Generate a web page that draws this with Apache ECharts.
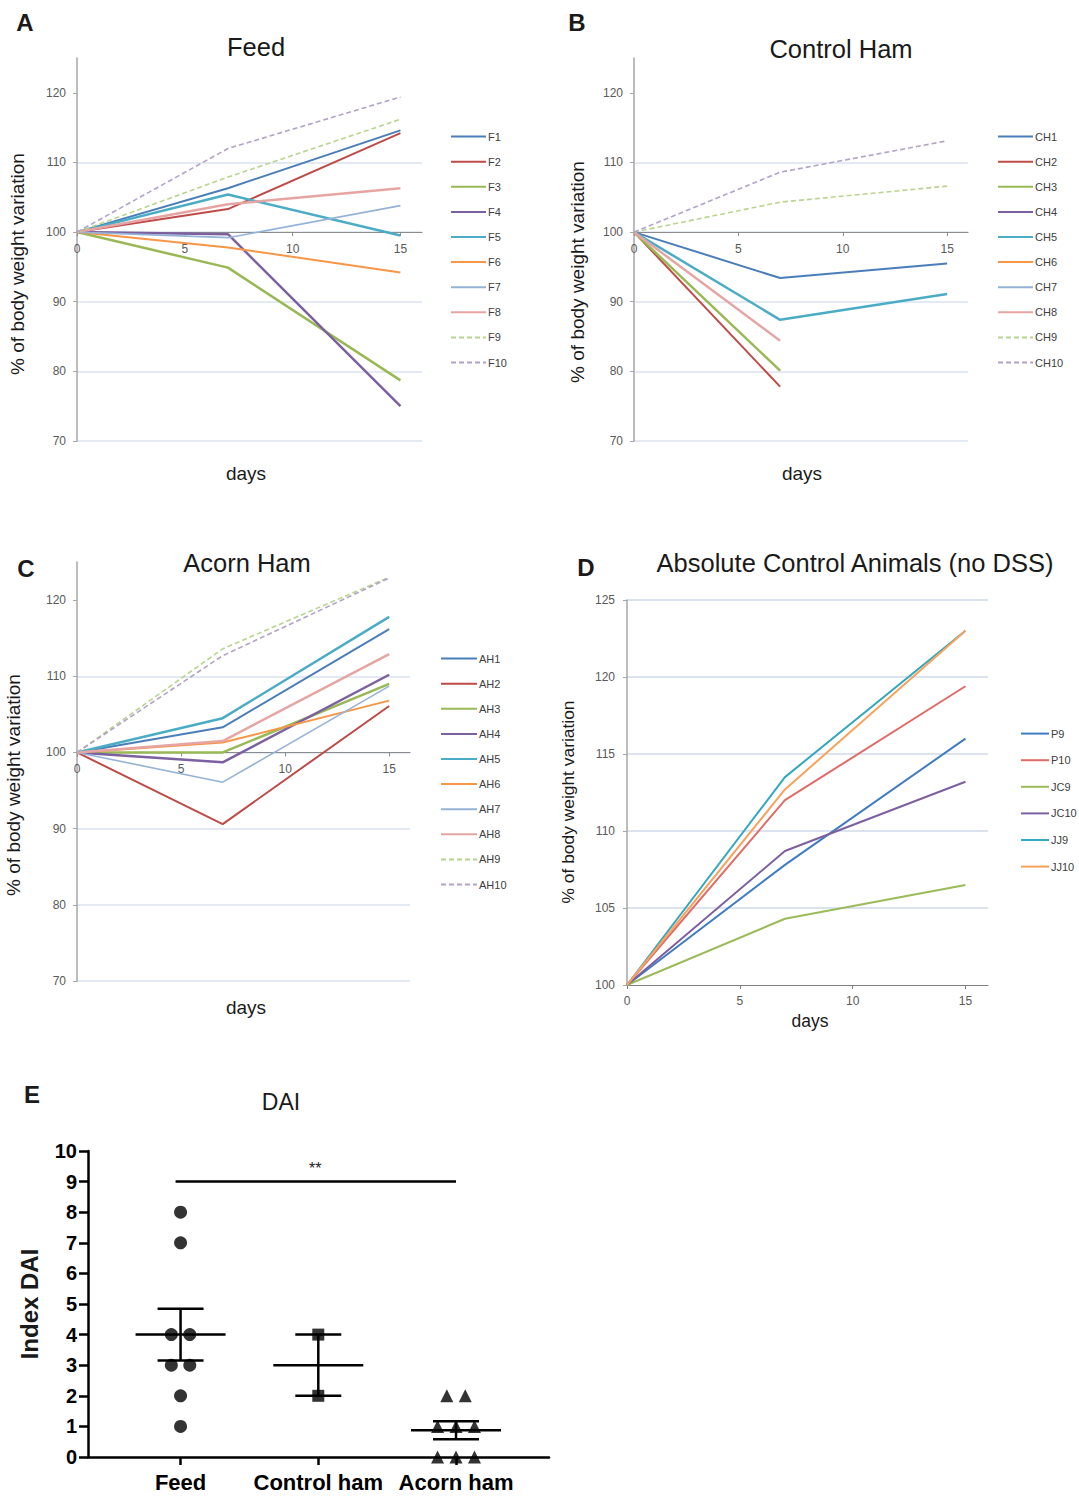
<!DOCTYPE html>
<html>
<head>
<meta charset="utf-8">
<title>Body weight variation and DAI</title>
<script src="https://cdn.jsdelivr.net/npm/echarts@6/dist/echarts.min.js"></script>
<style>
  html, body { margin: 0; padding: 0; background: #ffffff; }
  #chart { width: 1079px; height: 1497px; }
</style>
</head>
<body>
<div id="chart"></div>
<script>
// measurement days
const days = [0, 7, 15];
const dayTicks = [0, 5, 10, 15];
const weightTicks = [70, 80, 90, 100, 110, 120];
const controlTicks = [100, 105, 110, 115, 120, 125];

// A - Feed
const feedNames = ['F1', 'F2', 'F3', 'F4', 'F5', 'F6', 'F7', 'F8', 'F9', 'F10'];
const feedValues = [
  [100, 106.3, 114.6],
  [100, 103.3, 114.2],
  [100, 94.9, 78.7],
  [100, 99.7, 75.0],
  [100, 105.4, 99.5],
  [100, 97.8, 94.2],
  [100, 99.2, 103.8],
  [100, 104.0, 106.3],
  [100, 107.9, 116.2],
  [100, 112.0, 119.4]
];

// B - Control Ham (some animals have no later values)
const chNames = ['CH1', 'CH2', 'CH3', 'CH4', 'CH5', 'CH6', 'CH7', 'CH8', 'CH9', 'CH10'];
const chValues = [
  [100, 93.4, 95.5],
  [100, 77.8, null],
  [100, 80.1, null],
  [100, null, null],
  [100, 87.4, 91.1],
  [100, null, null],
  [100, null, null],
  [100, 84.4, null],
  [100, 104.3, 106.6],
  [100, 108.6, 113.1]
];

// C - Acorn Ham
const ahNames = ['AH1', 'AH2', 'AH3', 'AH4', 'AH5', 'AH6', 'AH7', 'AH8', 'AH9', 'AH10'];
const ahValues = [
  [100, 103.3, 116.2],
  [100, 90.6, 106.1],
  [100, 100.0, 109.0],
  [100, 98.7, 110.2],
  [100, 104.5, 117.8],
  [100, 101.3, 106.8],
  [100, 96.1, 108.7],
  [100, 101.5, 112.9],
  [100, 113.6, 123.0],
  [100, 112.7, 122.9]
];

// D - Absolute control animals (no DSS)
const acNames = ['P9', 'P10', 'JC9', 'JC10', 'JJ9', 'JJ10'];
const acValues = [
  [100, 107.8, 116.0],
  [100, 112.0, 119.4],
  [100, 104.3, 106.5],
  [100, 108.7, 113.2],
  [100, 113.5, 123.0],
  [100, 112.7, 123.0]
];

// E - DAI
const groupNames = ['Feed', 'Control ham', 'Acorn ham'];
const feedDAI = [8, 7, 4, 4, 3, 3, 2, 1];
const controlDAI = [4, 2];
const acornDAI = [2, 2, 1, 1, 1, 0, 0, 0];
const sigLevel = 9;

// styles
const FONT = '"Liberation Sans", Arial, sans-serif';
const palette = ['#4a7ebb', '#be4b48', '#98b954', '#7d60a0', '#4bacc6',
                 '#f79646', '#95b3d7', '#e6a5a3', '#b9d48f', '#b3a2c7'];
const widths = [2, 2, 2.5, 2.5, 2.5, 2, 1.6, 2.5, 1.6, 1.6];
const dashed = [false, false, false, false, false, false, false, false, true, true];
const acPalette = ['#3f7cc2', '#e06c68', '#9bbb59', '#7d5fa0', '#31a7c0', '#f9a25c'];
const yName = '% of body weight variation';

const chart = echarts.init(document.getElementById('chart'), null, { renderer: 'svg' });

function lineSeries(names, values, colors, idx) {
  return names.map((name, i) => ({
    name: name,
    type: 'line',
    xAxisIndex: idx,
    yAxisIndex: idx,
    symbol: 'none',
    silent: true,
    lineStyle: { color: colors[i], width: widths[i] || 2, type: dashed[i] ? [5, 3] : 'solid' },
    itemStyle: { color: colors[i] },
    data: days.map((d, j) => [d, values[i][j]]).filter(p => p[1] != null)
  }));
}

// grids: A, B, C, D, E
const grids = [
  { left: 77, top: 58, width: 345, height: 383 },
  { left: 634, top: 58, width: 334, height: 383 },
  { left: 77, top: 562, width: 333, height: 419 },
  { left: 627, top: 600, width: 361, height: 385 },
  { left: 88, top: 1151, width: 461, height: 306 }
];

function weightX(idx, crossOffset) {
  return {
    gridIndex: idx, type: 'value', min: 0, max: 16, position: 'bottom',
    offset: crossOffset,
    axisLine: { show: true, lineStyle: { color: '#8c8c8c', width: 1.2 } },
    axisTick: { show: true, customValues: dayTicks, length: 4, lineStyle: { color: '#8c8c8c' } },
    axisLabel: { customValues: dayTicks, color: '#595959', fontSize: 12, margin: 11, fontFamily: FONT },
    splitLine: { show: false }
  };
}

function weightY(idx) {
  return {
    gridIndex: idx, type: 'value', min: 70, max: 125, interval: 10,
    axisLine: { show: true, lineStyle: { color: '#a6a6a6', width: 1.5 } },
    axisTick: { show: true, customValues: weightTicks, length: 4, lineStyle: { color: '#a6a6a6' } },
    axisLabel: { customValues: weightTicks, color: '#595959', fontSize: 12, margin: 11, fontFamily: FONT },
    splitLine: { show: true, showMaxLine: false, lineStyle: { color: '#dae3ef', width: 1.5 } }
  };
}

// x axis crosses the y axis at 100
const crossA = -grids[0].height * (100 - 70) / (125 - 70);
const crossC = -grids[2].height * (100 - 70) / (125 - 70);

// E: mean and SEM per group
function meanSem(vals) {
  const n = vals.length;
  const m = vals.reduce((a, b) => a + b, 0) / n;
  const sd = Math.sqrt(vals.reduce((a, b) => a + (b - m) * (b - m), 0) / (n - 1));
  return [m, sd / Math.sqrt(n)];
}

// spread equal values sideways like a dot plot
function swarm(vals, x) {
  const step = 0.134;
  const counts = {};
  vals.forEach(v => { counts[v] = (counts[v] || 0) + 1; });
  const seen = {};
  return vals.map(v => {
    const k = seen[v] = (seen[v] || 0) + 1;
    const off = (k - 1 - (counts[v] - 1) / 2) * step;
    return [x + off, v];
  });
}

const daiGroups = [feedDAI, controlDAI, acornDAI];
const daiSymbols = ['circle', 'rect', 'triangle'];
const meanData = daiGroups.map((g, i) => [i + 1].concat(meanSem(g)));

function meanSemItem(params, api) {
  const x = api.value(0), m = api.value(1), s = api.value(2);
  const c = api.coord([x, m]);
  const hi = api.coord([x, m + s]);
  const lo = api.coord([x, m - s]);
  const style = { stroke: '#000', lineWidth: 2.5 };
  const seg = (x1, y1, x2, y2) => ({ type: 'line', shape: { x1, y1, x2, y2 }, style });
  return {
    type: 'group',
    children: [
      seg(c[0] - 45, c[1], c[0] + 45, c[1]),
      seg(c[0], hi[1], c[0], lo[1]),
      seg(c[0] - 23, hi[1], c[0] + 23, hi[1]),
      seg(c[0] - 23, lo[1], c[0] + 23, lo[1])
    ]
  };
}

function sigItem(params, api) {
  const a = api.coord([api.value(0), api.value(2)]);
  const b = api.coord([api.value(1), api.value(2)]);
  return {
    type: 'group',
    children: [
      { type: 'line', shape: { x1: a[0] - 5, y1: a[1], x2: b[0], y2: b[1] },
        style: { stroke: '#000', lineWidth: 2.5 } },
      { type: 'text', style: { text: '**', x: (a[0] + b[0]) / 2 - 3, y: a[1] - 5,
        align: 'center', verticalAlign: 'bottom', fontSize: 16, fontFamily: FONT, fill: '#222' } }
    ]
  };
}

function legendAt(names, left, top, itemWidth, gap) {
  return {
    data: names, orient: 'vertical', left: left, top: top, padding: 0,
    itemWidth: itemWidth, itemHeight: 14, itemGap: gap, selectedMode: false,
    itemStyle: { opacity: 0 },
    textStyle: { fontSize: 11, color: '#404040', fontFamily: FONT, padding: [0, 0, 0, -3] }
  };
}

function txt(text, x, y, size, weight, rotation) {
  return {
    type: 'text', x: x, y: y, rotation: rotation || 0, silent: true,
    style: { text: text, align: 'center', verticalAlign: 'middle',
      fontSize: size, fontWeight: weight || 'normal', fontFamily: FONT, fill: '#1a1a1a' }
  };
}

const option = {
  animation: false,
  backgroundColor: '#ffffff',
  grid: grids,
  legend: [
    legendAt(feedNames, 450, 131, 35, 13.9),
    legendAt(chNames, 997, 131, 35, 13.9),
    legendAt(ahNames, 440, 653, 36, 13.9),
    legendAt(acNames, 1020, 728, 28, 15.4)
  ],
  xAxis: [
    weightX(0, crossA),
    weightX(1, crossA),
    weightX(2, crossC),
    {
      gridIndex: 3, type: 'value', min: 0, max: 16,
      axisLine: { show: true, lineStyle: { color: '#7f7f7f', width: 1.2 } },
      axisTick: { show: true, customValues: dayTicks, length: 4, lineStyle: { color: '#7f7f7f' } },
      axisLabel: { customValues: dayTicks, color: '#595959', fontSize: 12, margin: 10, fontFamily: FONT },
      splitLine: { show: false }
    },
    {
      gridIndex: 4, type: 'value', min: 0.328, max: 3.675,
      axisLine: { show: true, lineStyle: { color: '#000', width: 2.5 } },
      axisTick: { show: true, customValues: [1, 2, 3], length: 8, lineStyle: { color: '#000', width: 2.5 } },
      axisLabel: { customValues: [1, 2, 3], formatter: v => groupNames[Math.round(v) - 1],
        color: '#000', fontSize: 22, fontWeight: 'bold', margin: 14, fontFamily: FONT },
      splitLine: { show: false }
    }
  ],
  yAxis: [
    weightY(0),
    weightY(1),
    weightY(2),
    {
      gridIndex: 3, type: 'value', min: 100, max: 125, interval: 5,
      axisLine: { show: true, lineStyle: { color: '#a6a6a6', width: 1.5 } },
      axisTick: { show: true, customValues: controlTicks, length: 4, lineStyle: { color: '#a6a6a6' } },
      axisLabel: { customValues: controlTicks, color: '#595959', fontSize: 12, margin: 12, fontFamily: FONT },
      splitLine: { show: true, showMinLine: false, lineStyle: { color: '#dae3ef', width: 2 } }
    },
    {
      gridIndex: 4, type: 'value', min: 0, max: 10, interval: 1,
      name: 'Index DAI', nameLocation: 'middle', nameGap: 47,
      nameTextStyle: { fontSize: 24, fontWeight: 'bold', color: '#1a1a1a', fontFamily: FONT },
      axisLine: { show: true, lineStyle: { color: '#000', width: 2.5 } },
      axisTick: { show: true, length: 9, lineStyle: { color: '#000', width: 2.5 } },
      axisLabel: { color: '#000', fontSize: 20, fontWeight: 'bold', margin: 11, fontFamily: FONT },
      splitLine: { show: false }
    }
  ],
  series: [].concat(
    lineSeries(feedNames, feedValues, palette, 0),
    lineSeries(chNames, chValues, palette, 1),
    lineSeries(ahNames, ahValues, palette, 2),
    acNames.map((name, i) => ({
      name: name, type: 'line', xAxisIndex: 3, yAxisIndex: 3, symbol: 'none', silent: true,
      lineStyle: { color: acPalette[i], width: 2 }, itemStyle: { color: acPalette[i] },
      data: days.map((d, j) => [d, acValues[i][j]])
    })),
    daiGroups.map((g, i) => ({
      name: groupNames[i], type: 'scatter', xAxisIndex: 4, yAxisIndex: 4,
      symbol: daiSymbols[i], symbolSize: i === 1 ? 12 : 13, silent: true,
      itemStyle: { color: '#000' }, z: 3,
      data: swarm(g, i + 1)
    })),
    [{
      name: 'mean_sem', type: 'custom', xAxisIndex: 4, yAxisIndex: 4, silent: true,
      renderItem: meanSemItem, encode: { x: 0, y: 1 }, data: meanData, z: 4
    }, {
      name: 'significance', type: 'custom', xAxisIndex: 4, yAxisIndex: 4, silent: true,
      renderItem: sigItem, encode: { x: [0, 1], y: 2 }, data: [[1, 3, sigLevel]], z: 4
    }]
  ),
  graphic: [
    txt('A', 25, 22, 24, 'bold'),
    txt('B', 577, 22, 24, 'bold'),
    txt('C', 26, 568, 24, 'bold'),
    txt('D', 586, 567, 24, 'bold'),
    txt('E', 32, 1094, 24, 'bold'),
    txt('Feed', 256, 47, 25.5),
    txt('Control Ham', 841, 49, 25.5),
    txt('Acorn Ham', 247, 563, 25.5),
    txt('Absolute Control Animals (no DSS)', 855, 563, 25.5),
    txt(yName, 17, 264, 19, 'normal', Math.PI / 2),
    txt(yName, 577, 272, 19, 'normal', Math.PI / 2),
    txt(yName, 13, 785, 19, 'normal', Math.PI / 2),
    txt(yName, 568, 802, 17.4, 'normal', Math.PI / 2),
    txt('days', 246, 473, 19),
    txt('days', 802, 473, 19),
    txt('days', 246, 1007, 19),
    txt('days', 810, 1021, 17.5),
    txt('DAI', 281, 1102, 23)
  ]
};

chart.setOption(option);
</script>
</body>
</html>
